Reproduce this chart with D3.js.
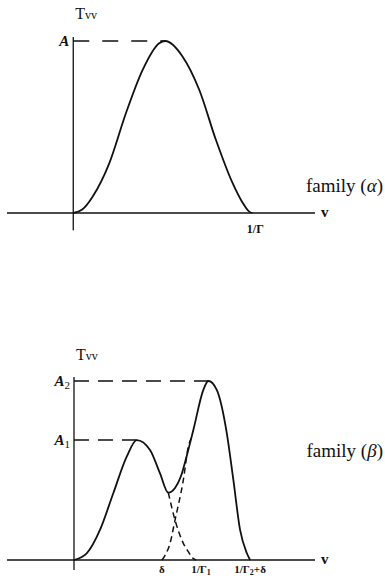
<!DOCTYPE html>
<html>
<head>
<meta charset="utf-8">
<script src="https://cdn.jsdelivr.net/npm/d3@7"></script>
<style>
  html, body { margin: 0; padding: 0; background: #fff; }
  svg { display: block; }
</style>
</head>
<body>
<svg id="chart" width="385" height="579"></svg>
<script>
// Family (alpha): single bump on [0, 1/Γ], peak height A
const alphaV = [0, 0.05, 0.108, 0.201, 0.294, 0.387, 0.480, 0.514, 0.611, 0.704, 0.797, 0.890, 0.94, 0.983, 1.0];
const alphaT = [0, 0.02, 0.095, 0.289, 0.58, 0.831, 0.987, 1.0, 0.909, 0.715, 0.424, 0.173, 0.07, 0.008, 0];
const alphaPeak = { v: 0.514, t: 1.0 };
const alphaTicks = [{ v: 1.0, label: "1/Γ" }];

// Family (beta): sum of two bumps, the second shifted by δ
const betaV = [0, 0.104, 0.213, 0.322, 0.432, 0.514, 0.623, 0.705, 0.773, 0.828, 0.877, 0.926, 0.978, 1.060, 1.101, 1.170, 1.252, 1.306, 1.361, 1.416, 1.443];
const betaT = [0, 0.037, 0.168, 0.373, 0.577, 0.67, 0.615, 0.484, 0.376, 0.402, 0.469, 0.587, 0.726, 0.950, 1.0, 0.950, 0.709, 0.447, 0.168, 0.039, 0];
// first component, tail past the dip
const comp1V = [0.773, 0.828, 0.896, 0.943, 0.97, 1.0];
const comp1T = [0.376, 0.223, 0.093, 0.04, 0.012, 0];
// second component, rise from δ
const comp2V = [0.721, 0.745, 0.787, 0.828, 0.896, 0.937, 0.96];
const comp2T = [0, 0.025, 0.093, 0.223, 0.447, 0.633, 0.68];
const betaPeaks = [{ v: 0.514, t: 0.67, name: "A", sub: "1" }, { v: 1.101, t: 1.0, name: "A", sub: "2" }];
const betaTicks = [
  { v: 0.721, label: "δ", sub: "", tail: "" },
  { v: 1.0, label: "1/Γ", sub: "1", tail: "" },
  { v: 1.443, label: "1/Γ", sub: "2", tail: "+δ" }
];

const SERIF = "'Liberation Serif', 'Times New Roman', 'DejaVu Serif', serif";
const svg = d3.select("#chart");

function zip(vs, ts) { return vs.map((v, i) => ({ v, t: ts[i] })); }

function panel(opt) {
  const g = svg.append("g").attr("font-family", SERIF).attr("fill", "#111");
  const x = d3.scaleLinear().domain(opt.xDomain).range([7, 315]);
  const y = d3.scaleLinear().domain([0, 1]).range([opt.base, opt.top]);
  const line = d3.line().x(d => x(d.v)).y(d => y(d.t)).curve(d3.curveMonotoneX);

  // axes
  g.append("line")
    .attr("x1", x(opt.xDomain[0])).attr("x2", x(opt.xDomain[1]))
    .attr("y1", y(0)).attr("y2", y(0))
    .attr("stroke", "#111").attr("stroke-width", 1.3);
  g.append("line")
    .attr("x1", x(0)).attr("x2", x(0))
    .attr("y1", y(opt.yAxis[0])).attr("y2", y(opt.yAxis[1]))
    .attr("stroke", "#111").attr("stroke-width", 1.3);

  // peak reference lines
  opt.peaks.forEach(p => {
    g.append("line")
      .attr("x1", x(0)).attr("x2", x(p.v))
      .attr("y1", y(p.t)).attr("y2", y(p.t))
      .attr("stroke", "#111").attr("stroke-width", 1.5)
      .attr("stroke-dasharray", opt.refDash);
    const t = g.append("text")
      .attr("x", x(0) - 4).attr("y", y(p.t) + 5)
      .attr("text-anchor", "end")
      .attr("font-size", 15).attr("font-style", "italic").attr("font-weight", "bold");
    t.append("tspan").text(p.name);
    if (p.sub) t.append("tspan").attr("font-size", 11).attr("font-style", "normal")
      .attr("font-weight", "normal").attr("dy", 3).text(p.sub);
  });

  // component curves (dashed)
  (opt.components || []).forEach(c => {
    g.append("path").attr("d", line(c))
      .attr("fill", "none").attr("stroke", "#111")
      .attr("stroke-width", 1.5).attr("stroke-dasharray", "6,4");
  });

  // main curve
  g.append("path").attr("d", line(opt.curve))
    .attr("fill", "none").attr("stroke", "#111").attr("stroke-width", 1.8);

  // x tick labels
  opt.ticks.forEach(tk => {
    const t = g.append("text")
      .attr("x", x(tk.v) + (tk.dx || 0)).attr("y", y(0) + opt.tickDy)
      .attr("text-anchor", "middle")
      .attr("font-size", opt.tickSize).attr("font-weight", "bold");
    t.append("tspan").text(tk.label);
    if (tk.sub) t.append("tspan").attr("font-size", opt.tickSize - 3).attr("dy", 2).text(tk.sub);
    if (tk.tail) t.append("tspan").attr("dy", -2).text(tk.tail);
  });

  // axis titles
  const ty = g.append("text").attr("x", x(0) + 2).attr("y", opt.titleY).attr("font-size", 16);
  ty.append("tspan").text("T");
  ty.append("tspan").attr("font-size", 12).text("vv");
  g.append("text").attr("x", 321).attr("y", y(0) + 4)
    .attr("font-size", 15).attr("font-weight", "bold").text("v");

  // family label
  const f = g.append("text").attr("x", 383).attr("y", opt.famY)
    .attr("text-anchor", "end").attr("font-size", 19);
  f.append("tspan").text("family (");
  f.append("tspan").attr("font-style", "italic").text(opt.famSym);
  f.append("tspan").text(")");
}

panel({
  xDomain: [-0.37, 1.35], base: 213, top: 41, yAxis: [-0.1, 1.023],
  curve: zip(alphaV, alphaT), peaks: [alphaPeak].map(p => ({ ...p, name: "A" })),
  refDash: "16,13",
  ticks: alphaTicks.map(t => ({ ...t, dx: 3 })), tickDy: 20, tickSize: 12,
  titleY: 19, famY: 192, famSym: "α"
});

panel({
  xDomain: [-0.549, 1.975], base: 560, top: 381, yAxis: [-0.056, 1.022],
  curve: zip(betaV, betaT), components: [zip(comp1V, comp1T), zip(comp2V, comp2T)],
  peaks: betaPeaks, refDash: "15,9",
  ticks: betaTicks.map(t => ({ ...t, dx: t.sub === "1" ? 5 : 0 })), tickDy: 13, tickSize: 11,
  titleY: 360, famY: 457, famSym: "β"
});
</script>
</body>
</html>
